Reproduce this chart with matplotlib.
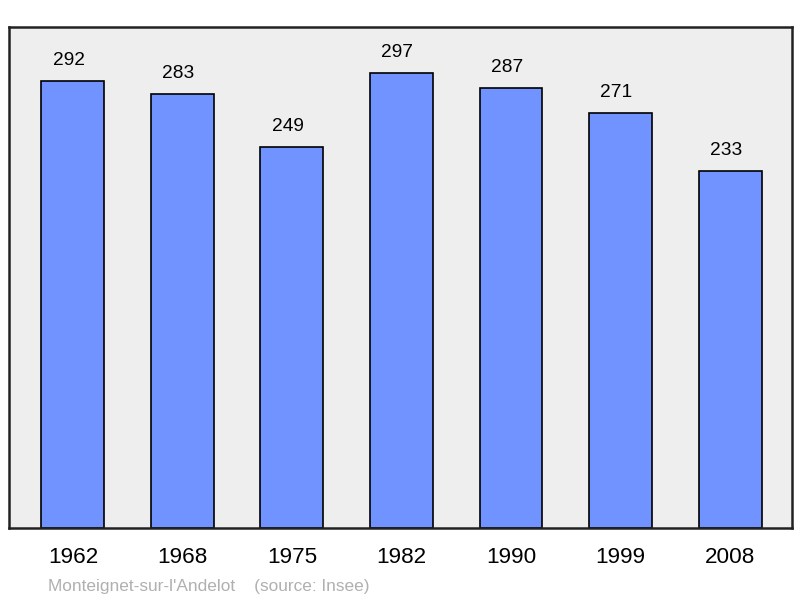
import matplotlib
matplotlib.use("Agg")
import matplotlib.pyplot as plt

years = ["1962", "1968", "1975", "1982", "1990", "1999", "2008"]
population = [292, 283, 249, 297, 287, 271, 233]
commune = "Monteignet-sur-l'Andelot"
source = "(source: Insee)"

plt.rcParams['font.family'] = ['Liberation Sans', 'DejaVu Sans']

fig = plt.figure(figsize=(8, 5.98), dpi=100)
ax = fig.add_axes([9/800, 70/598, 783/800, 501/598])
ax.set_facecolor('#eeeeee')
x = list(range(len(years)))
ax.bar(x, population, width=0.575, color='#7093ff', edgecolor='black', linewidth=1.2, zorder=2)
for xi, v in zip(x, population):
    ax.annotate(str(v), (xi, v), xytext=(-3, 11.5), textcoords='offset points',
                ha='center', va='baseline', fontsize=13.8, color='black')
ax.set_xlim(-0.584, 6.566)
ax.set_ylim(0, 327)
ax.set_yticks([])
ax.set_xticks(x)
ax.set_xticklabels(years, fontsize=16.2)
ax.tick_params(axis='x', length=0, pad=13.5)
for s in ax.spines.values():
    s.set_linewidth(1.8)
    s.set_color('#222222')
fig.text(48/800, 1 - 591/598, commune + "    " + source, fontsize=12.4, color='#b0b0b0',
         ha='left', va='baseline')
fig.savefig('out.png', dpi=100)
